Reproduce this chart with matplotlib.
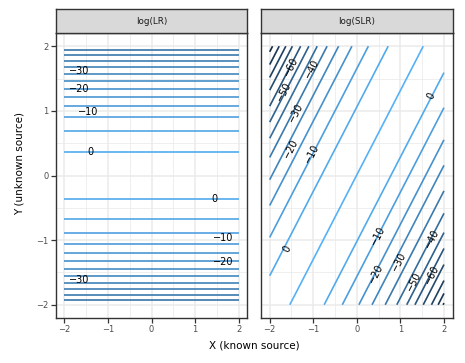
import matplotlib
matplotlib.use('Agg')
import matplotlib.pyplot as plt
from matplotlib.colors import LinearSegmentedColormap, Normalize
import numpy as np

# log(LR) panel: flat contour lines (y position) and their level
lr_y = [1.949, 1.862, 1.769, 1.672, 1.569, 1.462, 1.345, 1.215, 1.068, 0.898, 0.688, 0.369,
        -0.358, -0.671, -0.882, -1.056, -1.200, -1.328, -1.440, -1.554, -1.656, -1.754, -1.846, -1.932]
lr_level = [-44, -40, -36, -32, -28, -24, -20, -16, -12, -8, -4, 0,
            0, -4, -8, -12, -16, -20, -24, -28, -32, -36, -40, -44]
lr_lab = ['\u221230', '\u221220', '\u221210', '0', '0', '\u221210', '\u221220', '\u221230']
lr_lab_x = [-1.65, -1.65, -1.45, -1.41, 1.45, 1.65, 1.65, -1.65]
lr_lab_y = [1.615, 1.334, 0.975, 0.369, -0.369, -0.974, -1.343, -1.615]

# log(SLR) panel: parallel lines y = slope * x + c
slr_slope = 1.306
slr_c = [4.526, 4.328, 4.129, 3.932, 3.685, 3.438, 3.188, 2.892, 2.547, 2.148, 1.655, 1.061, 0.01,
         -1.020, -1.563, -2.060, -2.455, -2.850, -3.197, -3.495, -3.741, -3.990, -4.237, -4.436, -4.586]
slr_level = [-110, -100, -90, -80, -70, -60, -50, -40, -30, -20, -10, 0, 6,
             0, -10, -20, -30, -40, -50, -60, -70, -80, -90, -100, -110]
slr_lab = ['\u221260', '\u221250', '\u221240', '\u221230', '\u221220', '\u221210', '0',
           '0', '\u221210', '\u221220', '\u221230', '\u221240', '\u221250', '\u221260']
slr_lab_x = [-1.518, -1.669, -1.022, -1.403, -1.518, -1.022, -1.60,
             1.714, 0.494, 0.441, 0.974, 1.714, 1.317, 1.714]
slr_lab_y = [1.688, 1.303, 1.660, 0.969, 0.411, 0.334, -1.128,
             1.231, -0.923, -1.512, -1.332, -0.974, -1.640, -1.538]

cmap = LinearSegmentedColormap.from_list('gg', ['#132B43', '#336A98', '#56B1F7'])
norm = Normalize(vmin=min(slr_level), vmax=max(slr_level))

W, H = 465, 363
fig = plt.figure(figsize=(W / 100, H / 100), dpi=100)

panel_bottom = 1 - 317.7 / H
panel_h = (317.7 - 33.3) / H
strip_h = (33.3 - 9.3) / H
lefts = [55.7 / W, 261 / W]
width = 191.7 / W

axes = []
for left, title in zip(lefts, ['log(LR)', 'log(SLR)']):
    ax = fig.add_axes([left, panel_bottom, width, panel_h])
    ax.set_xlim(-2.2, 2.2)
    ax.set_ylim(-2.2, 2.2)
    ax.set_xticks([-2, -1, 0, 1, 2])
    ax.set_yticks([-2, -1, 0, 1, 2])
    ax.set_xticklabels(['\u22122', '\u22121', '0', '1', '2'])
    ax.set_yticklabels(['\u22122', '\u22121', '0', '1', '2'])
    ax.set_xticks([-1.5, -0.5, 0.5, 1.5], minor=True)
    ax.set_yticks([-1.5, -0.5, 0.5, 1.5], minor=True)
    ax.grid(which='major', color='#EBEBEB', linewidth=1.1)
    ax.grid(which='minor', color='#EBEBEB', linewidth=0.55)
    ax.set_axisbelow(True)
    ax.tick_params(which='minor', length=0)
    ax.tick_params(which='major', length=3.5, width=0.9, color='#333333',
                   labelsize=6, labelcolor='#4D4D4D', pad=1.5)
    for s in ax.spines.values():
        s.set_color('#333333')
        s.set_linewidth(1.0)
    sax = fig.add_axes([left, panel_bottom + panel_h, width, strip_h])
    sax.set_facecolor('#D9D9D9')
    sax.set_xticks([])
    sax.set_yticks([])
    for s in sax.spines.values():
        s.set_color('#333333')
        s.set_linewidth(1.0)
    sax.text(0.5, 0.5, title, ha='center', va='center', fontsize=6.3,
             color='#1A1A1A', transform=sax.transAxes)
    axes.append(ax)

ax1, ax2 = axes
ax2.tick_params(axis='y', length=0, labelleft=False)

# left panel
for y, lv in zip(lr_y, lr_level):
    ax1.plot([-2, 2], [y, y], color=cmap(norm(lv)), linewidth=1.2, solid_capstyle='butt')
for t, x, y in zip(lr_lab, lr_lab_x, lr_lab_y):
    ax1.text(x, y, t, ha='center', va='center', fontsize=7, color='black')

# right panel, lines clipped to the [-2, 2] square
for c, lv in zip(slr_c, slr_level):
    x_lo = max(-2, (-2 - c) / slr_slope)
    x_hi = min(2, (2 - c) / slr_slope)
    ax2.plot([x_lo, x_hi], [slr_slope * x_lo + c, slr_slope * x_hi + c],
             color=cmap(norm(lv)), linewidth=1.2, solid_capstyle='butt')
ang = np.degrees(np.arctan(slr_slope))
for t, x, y in zip(slr_lab, slr_lab_x, slr_lab_y):
    ax2.text(x, y, t, ha='center', va='center', fontsize=7, color='black',
             rotation=ang, rotation_mode='anchor', transform_rotates_text=True)

fig.text(254 / W, 1 - 346 / H, 'X (known source)', ha='center', va='center', fontsize=7.5)
fig.text(19.5 / W, 1 - 163.5 / H, 'Y (unknown source)', ha='center', va='center',
         fontsize=7.5, rotation=90)

fig.savefig('out.png', dpi=100)
